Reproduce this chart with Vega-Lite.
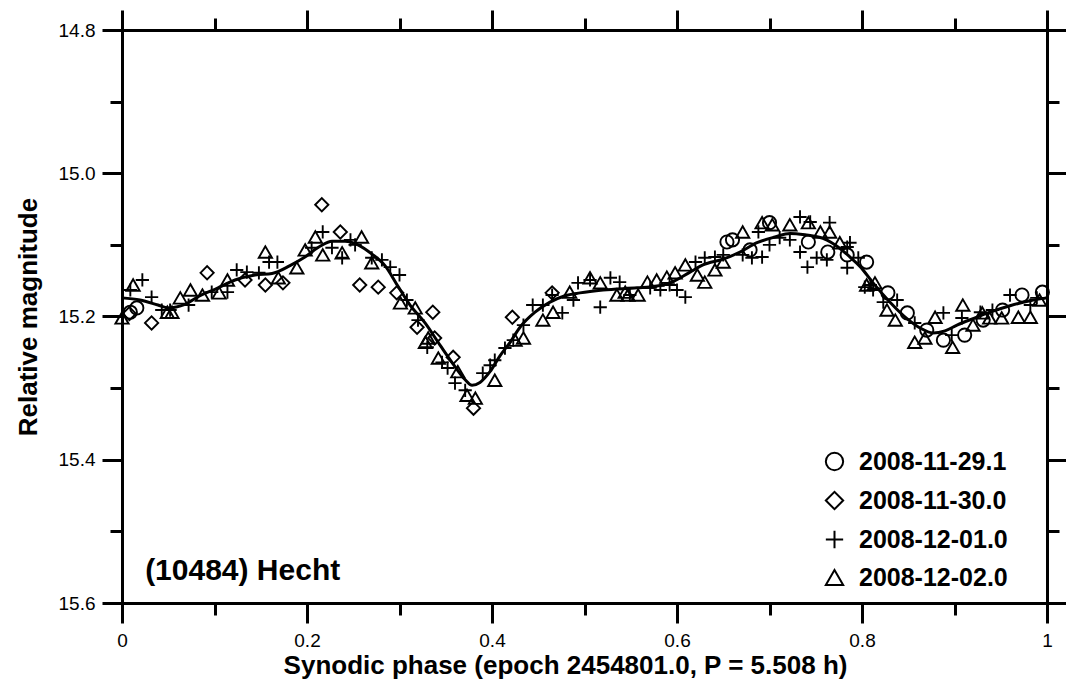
{
  "$schema": "https://vega.github.io/schema/vega-lite/v6.json",
  "width": 925,
  "height": 573,
  "autosize": "none",
  "padding": {"left": 122, "top": 30, "right": 19, "bottom": 87},
  "background": "white",
  "config": {
    "view": {"stroke": null},
    "font": "Liberation Sans",
    "axis": {"grid": false, "domainColor": "black", "domainWidth": 3, "domainCap": "square", "tickColor": "black", "tickWidth": 3, "labelColor": "black", "titleColor": "black", "labelFont": "Liberation Sans", "titleFont": "Liberation Sans", "labelOverlap": false, "labelFlush": false}
  },
  "datasets": {
    "obs": [
      {"phase": 0.009, "mag": 15.194, "night": "2008-11-29.1"},
      {"phase": 0.016, "mag": 15.188, "night": "2008-11-29.1"},
      {"phase": 0.654, "mag": 15.096, "night": "2008-11-29.1"},
      {"phase": 0.660, "mag": 15.093, "night": "2008-11-29.1"},
      {"phase": 0.679, "mag": 15.107, "night": "2008-11-29.1"},
      {"phase": 0.700, "mag": 15.069, "night": "2008-11-29.1"},
      {"phase": 0.742, "mag": 15.096, "night": "2008-11-29.1"},
      {"phase": 0.763, "mag": 15.110, "night": "2008-11-29.1"},
      {"phase": 0.784, "mag": 15.114, "night": "2008-11-29.1"},
      {"phase": 0.805, "mag": 15.124, "night": "2008-11-29.1"},
      {"phase": 0.828, "mag": 15.167, "night": "2008-11-29.1"},
      {"phase": 0.849, "mag": 15.195, "night": "2008-11-29.1"},
      {"phase": 0.870, "mag": 15.219, "night": "2008-11-29.1"},
      {"phase": 0.888, "mag": 15.233, "night": "2008-11-29.1"},
      {"phase": 0.911, "mag": 15.226, "night": "2008-11-29.1"},
      {"phase": 0.931, "mag": 15.205, "night": "2008-11-29.1"},
      {"phase": 0.952, "mag": 15.191, "night": "2008-11-29.1"},
      {"phase": 0.973, "mag": 15.170, "night": "2008-11-29.1"},
      {"phase": 0.995, "mag": 15.166, "night": "2008-11-29.1"},

      {"phase": 0.008, "mag": 15.196, "night": "2008-11-30.0"},
      {"phase": 0.032, "mag": 15.209, "night": "2008-11-30.0"},
      {"phase": 0.092, "mag": 15.139, "night": "2008-11-30.0"},
      {"phase": 0.133, "mag": 15.149, "night": "2008-11-30.0"},
      {"phase": 0.155, "mag": 15.156, "night": "2008-11-30.0"},
      {"phase": 0.174, "mag": 15.153, "night": "2008-11-30.0"},
      {"phase": 0.216, "mag": 15.044, "night": "2008-11-30.0"},
      {"phase": 0.236, "mag": 15.082, "night": "2008-11-30.0"},
      {"phase": 0.257, "mag": 15.156, "night": "2008-11-30.0"},
      {"phase": 0.277, "mag": 15.159, "night": "2008-11-30.0"},
      {"phase": 0.297, "mag": 15.167, "night": "2008-11-30.0"},
      {"phase": 0.319, "mag": 15.215, "night": "2008-11-30.0"},
      {"phase": 0.336, "mag": 15.194, "night": "2008-11-30.0"},
      {"phase": 0.338, "mag": 15.230, "night": "2008-11-30.0"},
      {"phase": 0.358, "mag": 15.257, "night": "2008-11-30.0"},
      {"phase": 0.380, "mag": 15.328, "night": "2008-11-30.0"},
      {"phase": 0.422, "mag": 15.201, "night": "2008-11-30.0"},
      {"phase": 0.465, "mag": 15.167, "night": "2008-11-30.0"},

      {"phase": 0.009, "mag": 15.163, "night": "2008-12-01.0"},
      {"phase": 0.022, "mag": 15.149, "night": "2008-12-01.0"},
      {"phase": 0.032, "mag": 15.173, "night": "2008-12-01.0"},
      {"phase": 0.043, "mag": 15.191, "night": "2008-12-01.0"},
      {"phase": 0.052, "mag": 15.191, "night": "2008-12-01.0"},
      {"phase": 0.072, "mag": 15.184, "night": "2008-12-01.0"},
      {"phase": 0.097, "mag": 15.166, "night": "2008-12-01.0"},
      {"phase": 0.114, "mag": 15.166, "night": "2008-12-01.0"},
      {"phase": 0.124, "mag": 15.135, "night": "2008-12-01.0"},
      {"phase": 0.135, "mag": 15.138, "night": "2008-12-01.0"},
      {"phase": 0.148, "mag": 15.139, "night": "2008-12-01.0"},
      {"phase": 0.159, "mag": 15.124, "night": "2008-12-01.0"},
      {"phase": 0.168, "mag": 15.124, "night": "2008-12-01.0"},
      {"phase": 0.205, "mag": 15.104, "night": "2008-12-01.0"},
      {"phase": 0.217, "mag": 15.082, "night": "2008-12-01.0"},
      {"phase": 0.227, "mag": 15.104, "night": "2008-12-01.0"},
      {"phase": 0.238, "mag": 15.118, "night": "2008-12-01.0"},
      {"phase": 0.247, "mag": 15.093, "night": "2008-12-01.0"},
      {"phase": 0.252, "mag": 15.100, "night": "2008-12-01.0"},
      {"phase": 0.270, "mag": 15.118, "night": "2008-12-01.0"},
      {"phase": 0.281, "mag": 15.121, "night": "2008-12-01.0"},
      {"phase": 0.290, "mag": 15.131, "night": "2008-12-01.0"},
      {"phase": 0.300, "mag": 15.142, "night": "2008-12-01.0"},
      {"phase": 0.308, "mag": 15.177, "night": "2008-12-01.0"},
      {"phase": 0.320, "mag": 15.205, "night": "2008-12-01.0"},
      {"phase": 0.330, "mag": 15.243, "night": "2008-12-01.0"},
      {"phase": 0.346, "mag": 15.264, "night": "2008-12-01.0"},
      {"phase": 0.352, "mag": 15.272, "night": "2008-12-01.0"},
      {"phase": 0.360, "mag": 15.293, "night": "2008-12-01.0"},
      {"phase": 0.371, "mag": 15.303, "night": "2008-12-01.0"},
      {"phase": 0.390, "mag": 15.279, "night": "2008-12-01.0"},
      {"phase": 0.398, "mag": 15.268, "night": "2008-12-01.0"},
      {"phase": 0.403, "mag": 15.261, "night": "2008-12-01.0"},
      {"phase": 0.414, "mag": 15.244, "night": "2008-12-01.0"},
      {"phase": 0.423, "mag": 15.233, "night": "2008-12-01.0"},
      {"phase": 0.434, "mag": 15.212, "night": "2008-12-01.0"},
      {"phase": 0.444, "mag": 15.184, "night": "2008-12-01.0"},
      {"phase": 0.455, "mag": 15.184, "night": "2008-12-01.0"},
      {"phase": 0.465, "mag": 15.170, "night": "2008-12-01.0"},
      {"phase": 0.476, "mag": 15.195, "night": "2008-12-01.0"},
      {"phase": 0.488, "mag": 15.177, "night": "2008-12-01.0"},
      {"phase": 0.493, "mag": 15.153, "night": "2008-12-01.0"},
      {"phase": 0.506, "mag": 15.149, "night": "2008-12-01.0"},
      {"phase": 0.517, "mag": 15.187, "night": "2008-12-01.0"},
      {"phase": 0.528, "mag": 15.146, "night": "2008-12-01.0"},
      {"phase": 0.538, "mag": 15.152, "night": "2008-12-01.0"},
      {"phase": 0.549, "mag": 15.170, "night": "2008-12-01.0"},
      {"phase": 0.571, "mag": 15.160, "night": "2008-12-01.0"},
      {"phase": 0.582, "mag": 15.163, "night": "2008-12-01.0"},
      {"phase": 0.592, "mag": 15.156, "night": "2008-12-01.0"},
      {"phase": 0.600, "mag": 15.163, "night": "2008-12-01.0"},
      {"phase": 0.609, "mag": 15.173, "night": "2008-12-01.0"},
      {"phase": 0.620, "mag": 15.124, "night": "2008-12-01.0"},
      {"phase": 0.630, "mag": 15.118, "night": "2008-12-01.0"},
      {"phase": 0.641, "mag": 15.117, "night": "2008-12-01.0"},
      {"phase": 0.650, "mag": 15.114, "night": "2008-12-01.0"},
      {"phase": 0.671, "mag": 15.114, "night": "2008-12-01.0"},
      {"phase": 0.681, "mag": 15.118, "night": "2008-12-01.0"},
      {"phase": 0.688, "mag": 15.082, "night": "2008-12-01.0"},
      {"phase": 0.692, "mag": 15.117, "night": "2008-12-01.0"},
      {"phase": 0.700, "mag": 15.100, "night": "2008-12-01.0"},
      {"phase": 0.711, "mag": 15.090, "night": "2008-12-01.0"},
      {"phase": 0.722, "mag": 15.093, "night": "2008-12-01.0"},
      {"phase": 0.733, "mag": 15.061, "night": "2008-12-01.0"},
      {"phase": 0.744, "mag": 15.068, "night": "2008-12-01.0"},
      {"phase": 0.733, "mag": 15.110, "night": "2008-12-01.0"},
      {"phase": 0.741, "mag": 15.131, "night": "2008-12-01.0"},
      {"phase": 0.751, "mag": 15.118, "night": "2008-12-01.0"},
      {"phase": 0.762, "mag": 15.121, "night": "2008-12-01.0"},
      {"phase": 0.765, "mag": 15.069, "night": "2008-12-01.0"},
      {"phase": 0.784, "mag": 15.103, "night": "2008-12-01.0"},
      {"phase": 0.787, "mag": 15.097, "night": "2008-12-01.0"},
      {"phase": 0.784, "mag": 15.132, "night": "2008-12-01.0"},
      {"phase": 0.796, "mag": 15.118, "night": "2008-12-01.0"},
      {"phase": 0.803, "mag": 15.159, "night": "2008-12-01.0"},
      {"phase": 0.809, "mag": 15.156, "night": "2008-12-01.0"},
      {"phase": 0.812, "mag": 15.163, "night": "2008-12-01.0"},
      {"phase": 0.823, "mag": 15.180, "night": "2008-12-01.0"},
      {"phase": 0.838, "mag": 15.177, "night": "2008-12-01.0"},
      {"phase": 0.857, "mag": 15.209, "night": "2008-12-01.0"},
      {"phase": 0.888, "mag": 15.195, "night": "2008-12-01.0"},
      {"phase": 0.897, "mag": 15.226, "night": "2008-12-01.0"},
      {"phase": 0.908, "mag": 15.202, "night": "2008-12-01.0"},
      {"phase": 0.928, "mag": 15.194, "night": "2008-12-01.0"},
      {"phase": 0.941, "mag": 15.191, "night": "2008-12-01.0"},
      {"phase": 0.960, "mag": 15.170, "night": "2008-12-01.0"},
      {"phase": 0.982, "mag": 15.184, "night": "2008-12-01.0"},
      {"phase": 0.989, "mag": 15.174, "night": "2008-12-01.0"},

      {"phase": 0.000, "mag": 15.202, "night": "2008-12-02.0"},
      {"phase": 0.012, "mag": 15.156, "night": "2008-12-02.0"},
      {"phase": 0.049, "mag": 15.194, "night": "2008-12-02.0"},
      {"phase": 0.054, "mag": 15.194, "night": "2008-12-02.0"},
      {"phase": 0.063, "mag": 15.174, "night": "2008-12-02.0"},
      {"phase": 0.074, "mag": 15.163, "night": "2008-12-02.0"},
      {"phase": 0.087, "mag": 15.170, "night": "2008-12-02.0"},
      {"phase": 0.105, "mag": 15.167, "night": "2008-12-02.0"},
      {"phase": 0.114, "mag": 15.149, "night": "2008-12-02.0"},
      {"phase": 0.155, "mag": 15.110, "night": "2008-12-02.0"},
      {"phase": 0.169, "mag": 15.146, "night": "2008-12-02.0"},
      {"phase": 0.189, "mag": 15.132, "night": "2008-12-02.0"},
      {"phase": 0.198, "mag": 15.107, "night": "2008-12-02.0"},
      {"phase": 0.209, "mag": 15.089, "night": "2008-12-02.0"},
      {"phase": 0.217, "mag": 15.114, "night": "2008-12-02.0"},
      {"phase": 0.238, "mag": 15.111, "night": "2008-12-02.0"},
      {"phase": 0.259, "mag": 15.089, "night": "2008-12-02.0"},
      {"phase": 0.270, "mag": 15.125, "night": "2008-12-02.0"},
      {"phase": 0.301, "mag": 15.181, "night": "2008-12-02.0"},
      {"phase": 0.317, "mag": 15.188, "night": "2008-12-02.0"},
      {"phase": 0.328, "mag": 15.236, "night": "2008-12-02.0"},
      {"phase": 0.331, "mag": 15.230, "night": "2008-12-02.0"},
      {"phase": 0.342, "mag": 15.258, "night": "2008-12-02.0"},
      {"phase": 0.363, "mag": 15.277, "night": "2008-12-02.0"},
      {"phase": 0.373, "mag": 15.310, "night": "2008-12-02.0"},
      {"phase": 0.382, "mag": 15.314, "night": "2008-12-02.0"},
      {"phase": 0.403, "mag": 15.289, "night": "2008-12-02.0"},
      {"phase": 0.425, "mag": 15.233, "night": "2008-12-02.0"},
      {"phase": 0.434, "mag": 15.230, "night": "2008-12-02.0"},
      {"phase": 0.455, "mag": 15.205, "night": "2008-12-02.0"},
      {"phase": 0.466, "mag": 15.194, "night": "2008-12-02.0"},
      {"phase": 0.484, "mag": 15.166, "night": "2008-12-02.0"},
      {"phase": 0.506, "mag": 15.146, "night": "2008-12-02.0"},
      {"phase": 0.517, "mag": 15.153, "night": "2008-12-02.0"},
      {"phase": 0.535, "mag": 15.170, "night": "2008-12-02.0"},
      {"phase": 0.544, "mag": 15.166, "night": "2008-12-02.0"},
      {"phase": 0.547, "mag": 15.170, "night": "2008-12-02.0"},
      {"phase": 0.558, "mag": 15.170, "night": "2008-12-02.0"},
      {"phase": 0.568, "mag": 15.152, "night": "2008-12-02.0"},
      {"phase": 0.578, "mag": 15.149, "night": "2008-12-02.0"},
      {"phase": 0.589, "mag": 15.145, "night": "2008-12-02.0"},
      {"phase": 0.598, "mag": 15.139, "night": "2008-12-02.0"},
      {"phase": 0.609, "mag": 15.128, "night": "2008-12-02.0"},
      {"phase": 0.622, "mag": 15.142, "night": "2008-12-02.0"},
      {"phase": 0.630, "mag": 15.152, "night": "2008-12-02.0"},
      {"phase": 0.641, "mag": 15.135, "night": "2008-12-02.0"},
      {"phase": 0.650, "mag": 15.124, "night": "2008-12-02.0"},
      {"phase": 0.671, "mag": 15.082, "night": "2008-12-02.0"},
      {"phase": 0.692, "mag": 15.069, "night": "2008-12-02.0"},
      {"phase": 0.703, "mag": 15.072, "night": "2008-12-02.0"},
      {"phase": 0.722, "mag": 15.072, "night": "2008-12-02.0"},
      {"phase": 0.742, "mag": 15.069, "night": "2008-12-02.0"},
      {"phase": 0.755, "mag": 15.082, "night": "2008-12-02.0"},
      {"phase": 0.765, "mag": 15.082, "night": "2008-12-02.0"},
      {"phase": 0.776, "mag": 15.097, "night": "2008-12-02.0"},
      {"phase": 0.805, "mag": 15.156, "night": "2008-12-02.0"},
      {"phase": 0.814, "mag": 15.153, "night": "2008-12-02.0"},
      {"phase": 0.827, "mag": 15.191, "night": "2008-12-02.0"},
      {"phase": 0.836, "mag": 15.205, "night": "2008-12-02.0"},
      {"phase": 0.857, "mag": 15.236, "night": "2008-12-02.0"},
      {"phase": 0.868, "mag": 15.230, "night": "2008-12-02.0"},
      {"phase": 0.879, "mag": 15.201, "night": "2008-12-02.0"},
      {"phase": 0.898, "mag": 15.243, "night": "2008-12-02.0"},
      {"phase": 0.909, "mag": 15.184, "night": "2008-12-02.0"},
      {"phase": 0.920, "mag": 15.212, "night": "2008-12-02.0"},
      {"phase": 0.930, "mag": 15.195, "night": "2008-12-02.0"},
      {"phase": 0.938, "mag": 15.202, "night": "2008-12-02.0"},
      {"phase": 0.951, "mag": 15.202, "night": "2008-12-02.0"},
      {"phase": 0.969, "mag": 15.201, "night": "2008-12-02.0"},
      {"phase": 0.982, "mag": 15.201, "night": "2008-12-02.0"},
      {"phase": 0.992, "mag": 15.177, "night": "2008-12-02.0"}
    ],
    "fit": [
      {"phase": 0.0, "mag": 15.174}, {"phase": 0.0195, "mag": 15.177}, {"phase": 0.0389, "mag": 15.184},
      {"phase": 0.0497, "mag": 15.188}, {"phase": 0.0681, "mag": 15.183}, {"phase": 0.0843, "mag": 15.171},
      {"phase": 0.1005, "mag": 15.162}, {"phase": 0.1222, "mag": 15.149}, {"phase": 0.1438, "mag": 15.142},
      {"phase": 0.1622, "mag": 15.140}, {"phase": 0.1816, "mag": 15.129}, {"phase": 0.1978, "mag": 15.117},
      {"phase": 0.2141, "mag": 15.102}, {"phase": 0.227, "mag": 15.095}, {"phase": 0.2411, "mag": 15.095},
      {"phase": 0.2551, "mag": 15.100}, {"phase": 0.2703, "mag": 15.113}, {"phase": 0.2843, "mag": 15.129},
      {"phase": 0.2984, "mag": 15.158}, {"phase": 0.3114, "mag": 15.184}, {"phase": 0.3276, "mag": 15.209},
      {"phase": 0.3438, "mag": 15.240}, {"phase": 0.36, "mag": 15.270}, {"phase": 0.3708, "mag": 15.288},
      {"phase": 0.3784, "mag": 15.296}, {"phase": 0.387, "mag": 15.292}, {"phase": 0.3978, "mag": 15.277},
      {"phase": 0.4086, "mag": 15.255}, {"phase": 0.4195, "mag": 15.236}, {"phase": 0.4303, "mag": 15.215},
      {"phase": 0.4465, "mag": 15.194}, {"phase": 0.4627, "mag": 15.180}, {"phase": 0.4789, "mag": 15.171},
      {"phase": 0.4951, "mag": 15.167}, {"phase": 0.52, "mag": 15.163}, {"phase": 0.5568, "mag": 15.160},
      {"phase": 0.5762, "mag": 15.158}, {"phase": 0.5924, "mag": 15.153}, {"phase": 0.6141, "mag": 15.138},
      {"phase": 0.6281, "mag": 15.128}, {"phase": 0.6497, "mag": 15.120}, {"phase": 0.6681, "mag": 15.110},
      {"phase": 0.6865, "mag": 15.097}, {"phase": 0.7059, "mag": 15.089}, {"phase": 0.7222, "mag": 15.084},
      {"phase": 0.7384, "mag": 15.086}, {"phase": 0.7578, "mag": 15.091}, {"phase": 0.7762, "mag": 15.105},
      {"phase": 0.787, "mag": 15.117}, {"phase": 0.7978, "mag": 15.130}, {"phase": 0.8119, "mag": 15.153},
      {"phase": 0.8303, "mag": 15.180}, {"phase": 0.8486, "mag": 15.203}, {"phase": 0.8627, "mag": 15.216},
      {"phase": 0.8768, "mag": 15.223}, {"phase": 0.8897, "mag": 15.220}, {"phase": 0.9027, "mag": 15.212},
      {"phase": 0.9222, "mag": 15.202}, {"phase": 0.9384, "mag": 15.194}, {"phase": 0.96, "mag": 15.185},
      {"phase": 0.9816, "mag": 15.178}, {"phase": 1.0, "mag": 15.174}
    ],
    "label": [
      {"name": "(10484) Hecht"}
    ]
  },
  "layer": [
    {
      "data": {"name": "obs"},
      "mark": {"type": "point", "filled": false, "strokeWidth": 1.9, "size": 175, "color": "black", "opacity": 1},
      "encoding": {
        "x": {"field": "phase", "type": "quantitative",
          "scale": {"domain": [0, 1], "nice": false, "zero": false},
          "axis": {"orient": "bottom", "values": [0, 0.1, 0.2, 0.3, 0.4, 0.5, 0.6, 0.7, 0.8, 0.9, 1],
            "tickSize": {"condition": {"test": "round(datum.value*10)%2==1", "value": 12}, "value": 20},
            "labelExpr": "round(datum.value*10)%2==1 ? '' : (datum.value==0 ? '0' : (datum.value==1 ? '1' : format(datum.value, '.1f')))",
            "labelFontSize": 19, "labelPadding": 8,
            "title": "Synodic phase (epoch 2454801.0, P = 5.508 h)", "titleFontSize": 26, "titleFontWeight": "bold", "titlePadding": 2, "titleX": 443}},
        "y": {"field": "mag", "type": "quantitative",
          "scale": {"domain": [14.8, 15.6], "reverse": true, "nice": false, "zero": false},
          "axis": {"orient": "left", "values": [14.8, 14.9, 15.0, 15.1, 15.2, 15.3, 15.4, 15.5, 15.6],
            "tickSize": {"condition": {"test": "round(datum.value*10)%2==1", "value": 12}, "value": 20},
            "labelExpr": "round(datum.value*10)%2==1 ? '' : format(datum.value, '.1f')",
            "labelFontSize": 19, "labelPadding": 7,
            "title": "Relative magnitude", "titleFontSize": 26, "titleFontWeight": "bold", "titlePadding": 17}},
        "shape": {"field": "night", "type": "nominal",
          "scale": {"domain": ["2008-11-29.1", "2008-11-30.0", "2008-12-01.0", "2008-12-02.0"],
            "range": ["circle", "diamond", "M-1,0H1M0,-1V1", "triangle-up"]},
          "legend": {"orient": "none", "legendX": 700, "legendY": 419, "title": null,
            "labelFontSize": 25, "labelFontWeight": "bold", "labelFont": "Liberation Sans", "labelColor": "black",
            "symbolSize": 300, "symbolStrokeWidth": 2, "symbolStrokeColor": "black", "symbolFillColor": "transparent", "symbolOpacity": 1,
            "labelOffset": 12, "rowPadding": 12}}
      }
    },
    {
      "data": {"name": "fit"},
      "mark": {"type": "line", "interpolate": "monotone", "strokeWidth": 3, "color": "black"},
      "encoding": {
        "x": {"field": "phase", "type": "quantitative",
          "scale": {"domain": [0, 1], "nice": false, "zero": false},
          "axis": {"orient": "top", "values": [0, 0.1, 0.2, 0.3, 0.4, 0.5, 0.6, 0.7, 0.8, 0.9, 1],
            "tickSize": {"condition": {"test": "round(datum.value*10)%2==1", "value": 12}, "value": 20},
            "labels": false, "title": null}},
        "y": {"field": "mag", "type": "quantitative",
          "scale": {"domain": [14.8, 15.6], "reverse": true, "nice": false, "zero": false},
          "axis": {"orient": "right", "values": [14.8, 14.9, 15.0, 15.1, 15.2, 15.3, 15.4, 15.5, 15.6],
            "tickSize": {"condition": {"test": "round(datum.value*10)%2==1", "value": 12}, "value": 20},
            "labels": false, "title": null}}
      }
    },
    {
      "data": {"name": "label"},
      "mark": {"type": "text", "align": "left", "baseline": "middle", "fontSize": 30, "fontWeight": "bold", "font": "Liberation Sans", "color": "black"},
      "encoding": {
        "text": {"field": "name", "type": "nominal"},
        "x": {"datum": 0.025, "type": "quantitative", "axis": null},
        "y": {"datum": 15.555, "type": "quantitative", "axis": null}
      }
    }
  ],
  "resolve": {"axis": {"x": "independent", "y": "independent"}}
}
